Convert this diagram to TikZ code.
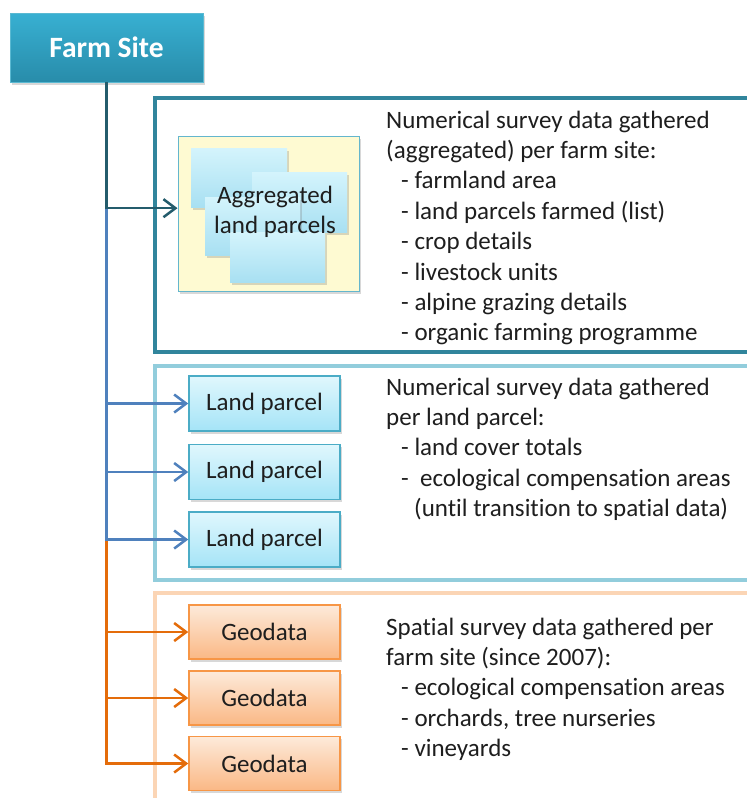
\documentclass[tikz,border=0pt]{standalone}
\usepackage{fontspec}
\setmainfont{Carlito}[Ligatures=NoCommon]
\usetikzlibrary{arrows.meta,shadows}
\definecolor{farmtop}{RGB}{56,176,210}
\definecolor{farmbottom}{RGB}{40,140,170}
\definecolor{farmedge}{RGB}{90,185,210}
\definecolor{trunkteal}{RGB}{36,92,108}
\definecolor{panelteal}{RGB}{49,133,156}
\definecolor{panelblue}{RGB}{146,205,220}
\definecolor{panelpeach}{RGB}{251,213,181}
\definecolor{linkblue}{RGB}{79,129,189}
\definecolor{linkorange}{RGB}{228,108,10}
\definecolor{parceledge}{RGB}{75,172,198}
\definecolor{parceltop}{RGB}{224,247,253}
\definecolor{parcelbottom}{RGB}{165,228,247}
\definecolor{geoedge}{RGB}{247,150,70}
\definecolor{geotop}{RGB}{253,234,218}
\definecolor{geobottom}{RGB}{250,184,133}
\definecolor{aggfill}{RGB}{254,250,210}
\definecolor{aggedge}{RGB}{100,182,205}
\definecolor{stacktop}{RGB}{212,244,252}
\definecolor{stackbottom}{RGB}{168,224,242}
\definecolor{textdark}{RGB}{30,30,30}

\begin{document}
\begin{tikzpicture}[x=1pt, y=-1pt,
        every node/.style={font=\fontsize{25}{30.4}\selectfont, text=textdark},
        softshadow/.style={drop shadow={shadow xshift=1.5pt, shadow yshift=-2.5pt, opacity=0.3}},
        farmbox/.style={draw=farmedge, line width=0.8pt, top color=farmtop, bottom color=farmbottom,
            minimum width=193pt, minimum height=69pt, inner sep=0pt, softshadow, text=white,
            font=\fontsize{29.5}{34}\selectfont\bfseries},
        parcelbox/.style={draw=parceledge, line width=1.5pt, top color=parceltop, bottom color=parcelbottom,
            minimum width=151pt, minimum height=55pt, inner sep=0pt, softshadow},
        geobox/.style={draw=geoedge, line width=1.5pt, top color=geotop, bottom color=geobottom,
            minimum width=151pt, minimum height=54pt, inner sep=0pt, softshadow},
        aggbox/.style={draw=aggedge, line width=1.5pt, fill=aggfill, minimum width=181pt,
            minimum height=155pt, inner sep=0pt, softshadow},
        stackrect/.style={top color=stacktop, bottom color=stackbottom, softshadow},
        panel/.style={line width=4pt, anchor=north west, inner sep=0pt, outer sep=0pt, minimum width=640pt},
        infotext/.style={anchor=base west, align=left, inner sep=0pt},
        link/.style={line width=2.5pt, -{Straight Barb[length=12pt, width=18pt]}}]
        \useasboundingbox (0,0) rectangle (747,798);
        \fill[white] (0,0) rectangle (747,798);
        \clip (0,0) rectangle (747,798);

        \node[panel, draw=panelteal, minimum height=253.5pt] (numpanel) at (155,98) {};
        \node[panel, draw=panelblue, minimum height=214pt] (parcelpanel) at (155,366) {};
        \node[panel, draw=panelpeach, minimum height=260pt] (spatialpanel) at (155,592.5) {};

        \node[farmbox] (farm) at (106.5,47.5) {Farm Site};

        \node[aggbox] (agg) at (268.8,214.2) {};
        \path[stackrect] (191,148) rectangle (287,207);
        \path[stackrect] (252,172) rectangle (347,232);
        \path[stackrect] (205,197) rectangle (300,255);
        \path[stackrect] (230,232) rectangle (325,282);
        \node[align=center, inner sep=0pt] (aggtext) at (275,212) {Aggregated\\land parcels};

        \node[parcelbox] (parcel1) at (264.5,403.5) {Land parcel};
        \node[parcelbox] (parcel2) at (264.5,472) {Land parcel};
        \node[parcelbox] (parcel3) at (264.5,539.5) {Land parcel};

        \node[geobox] (geo1) at (264.5,632) {Geodata};
        \node[geobox] (geo2) at (264.5,698) {Geodata};
        \node[geobox] (geo3) at (264.5,763.5) {Geodata};

        \node[infotext] (numtext) at (386,340.8) {Numerical survey data gathered\\
            (aggregated) per farm site:\\
            \hspace*{15pt}- farmland area\\
            \hspace*{15pt}- land parcels farmed (list)\\
            \hspace*{15pt}- crop details\\
            \hspace*{15pt}- livestock units\\
            \hspace*{15pt}- alpine grazing details\\
            \hspace*{15pt}- organic farming programme};
        \node[infotext] (parceltext) at (386,516.6) {Numerical survey data gathered\\
            per land parcel:\\
            \hspace*{15pt}- land cover totals\\
            \hspace*{15pt}-\ \ ecological compensation areas\\
            \hspace*{28pt}(until transition to spatial data)};
        \node[infotext] (spatialtext) at (386,756.6) {Spatial survey data gathered per\\
            farm site (since 2007):\\
            \hspace*{15pt}- ecological compensation areas\\
            \hspace*{15pt}- orchards, tree nurseries\\
            \hspace*{15pt}- vineyards};

        \coordinate (aggin) at ([yshift=6pt]agg.west);
        \coordinate (split1) at (farm.south |- aggin);
        \coordinate (split2) at (farm.south |- parcel3.west);
        \draw[link, linkorange] (split2) |- (geo1.west);
        \draw[link, linkorange] (split2) |- (geo2.west);
        \draw[link, linkorange] (split2) |- (geo3.west);
        \draw[link, linkblue] (split1) |- (parcel1.west);
        \draw[link, linkblue] (split1) |- (parcel2.west);
        \draw[link, linkblue] (split1) |- (parcel3.west);
        \draw[link, trunkteal] (farm.south) |- (aggin);
\end{tikzpicture}
\end{document}
